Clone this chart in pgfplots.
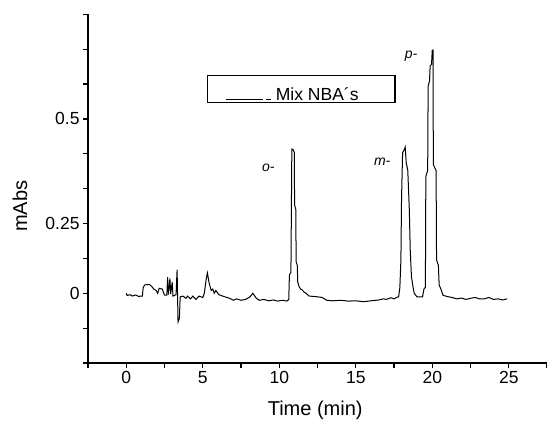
\documentclass[border=0pt]{standalone}
\usepackage{fontspec}
\setmainfont{Liberation Sans}
\usepackage{pgfplots}
\pgfplotsset{compat=1.18}
\begin{document}
\begin{tikzpicture}
\path[use as bounding box] (-88pt,-59.3pt) rectangle (458.5pt,362.7pt);
\begin{axis}[
  at={(0,0)}, anchor=south west,
  scale only axis, width=458.5pt, height=348.4pt,
  xmin=-2.5, xmax=27.5, ymin=-0.25, ymax=1.0,
  axis lines*=left,
  axis line style={line width=1.3pt, black},
  tick style={line width=1.2pt, black},
  tick align=outside, major tick length=5pt,
  xtick={-2.5,0,2.5,5,7.5,10,12.5,15,17.5,20,22.5,25,27.5},
  xticklabels={,0,,5,,10,,15,,20,,25,},
  ytick={-0.25,-0.125,0,0.125,0.25,0.375,0.5,0.625,0.75,0.875,1.0},
  yticklabels={,,0,,0.25,,,0.5,,,},
  ticklabel style={font=\fontsize{17.5}{20}\selectfont},
  /pgf/number format/assume math mode=true,
  xlabel={Time (min)}, ylabel={mAbs},
  label style={font=\fontsize{20}{24}\selectfont},
  xlabel style={at={(axis description cs:0.495,0)}, anchor=center, yshift=-47.3pt},
  ylabel style={at={(axis description cs:0,0.45)}, anchor=center, yshift=68pt},
  clip=false,
  legend image code/.code={},
  legend style={at={(rel axis cs:0.2595,0.8258)}, anchor=north west,
    draw=black, line width=1.2pt, fill=white, inner sep=0pt, column sep=0pt,
    nodes={inner sep=0pt, text height=24.5pt, text depth=2.5pt},
    font=\fontsize{17.5}{20}\selectfont},
]
\addplot[black, line width=1.0pt, sharp plot] table {
x y
0.00 0.000
0.05 -0.008
0.25 -0.005
0.40 -0.010
0.60 -0.006
0.80 -0.011
1.05 -0.010
1.10 0.020
1.20 0.030
1.50 0.032
1.65 0.025
1.80 0.015
1.95 0.010
2.05 0.000
2.15 0.018
2.35 0.015
2.50 -0.007
2.65 -0.007
2.70 0.058
2.75 -0.005
2.85 0.053
2.90 -0.003
3.00 0.040
3.05 -0.010
3.25 -0.005
3.32 0.085
3.38 -0.103
3.47 -0.090
3.52 -0.013
3.70 -0.010
3.90 -0.018
4.00 -0.010
4.20 -0.020
4.35 -0.010
4.55 -0.022
4.75 -0.010
5.00 -0.015
5.10 0.000
5.22 0.050
5.30 0.073
5.42 0.035
5.55 0.010
5.65 0.015
5.75 0.000
5.85 0.010
6.05 -0.005
6.40 -0.012
6.75 -0.018
7.00 -0.025
7.20 -0.020
7.50 -0.025
7.80 -0.022
8.10 -0.012
8.27 0.000
8.50 -0.018
8.70 -0.025
9.00 -0.022
9.30 -0.027
9.60 -0.024
9.90 -0.028
10.20 -0.025
10.50 -0.028
10.62 -0.022
10.66 0.065
10.76 0.075
10.82 0.517
10.90 0.515
10.98 0.505
11.00 0.317
11.08 0.300
11.10 0.113
11.18 0.100
11.20 0.041
11.30 0.023
11.40 0.015
11.50 0.012
11.60 0.005
11.75 0.000
11.95 -0.010
12.40 -0.012
12.80 -0.015
13.10 -0.025
13.50 -0.027
14.00 -0.025
14.50 -0.028
15.00 -0.027
15.50 -0.030
16.00 -0.027
16.50 -0.024
16.80 -0.020
17.00 -0.022
17.30 -0.016
17.50 -0.020
17.70 -0.014
17.80 -0.013
17.88 0.020
17.95 0.119
17.99 0.335
18.06 0.504
18.17 0.515
18.23 0.524
18.30 0.468
18.40 0.440
18.50 0.299
18.56 0.155
18.64 0.059
18.75 0.020
18.82 0.000
19.00 -0.013
19.36 -0.013
19.47 0.018
19.55 0.020
19.58 0.419
19.70 0.440
19.73 0.743
19.82 0.760
19.86 0.815
19.95 0.820
20.00 0.872
20.05 0.872
20.07 0.461
20.25 0.440
20.28 0.120
20.40 0.100
20.45 0.030
20.60 0.010
20.70 -0.007
21.00 -0.012
21.30 -0.015
21.60 -0.020
21.90 -0.017
22.20 -0.022
22.50 -0.018
22.80 -0.015
23.10 -0.020
23.40 -0.020
23.70 -0.015
24.00 -0.022
24.30 -0.020
24.60 -0.024
24.90 -0.020
};
\addlegendentry{\makebox[187pt][l]{\hspace{18pt}\raisebox{0.3pt}{\rule{37pt}{1.1pt}}\hspace{3pt}\raisebox{0.3pt}{\rule{5pt}{1.1pt}}\hspace{5pt}Mix NBA´s}}
\node[font=\fontsize{14}{16}\selectfont\itshape] at (axis cs:9.29,0.451) {o-};
\node[font=\fontsize{14}{16}\selectfont\itshape] at (axis cs:16.73,0.473) {m-};
\node[font=\fontsize{14}{16}\selectfont\itshape] at (axis cs:18.62,0.849) {p-};
\end{axis}
\end{tikzpicture}
\end{document}
